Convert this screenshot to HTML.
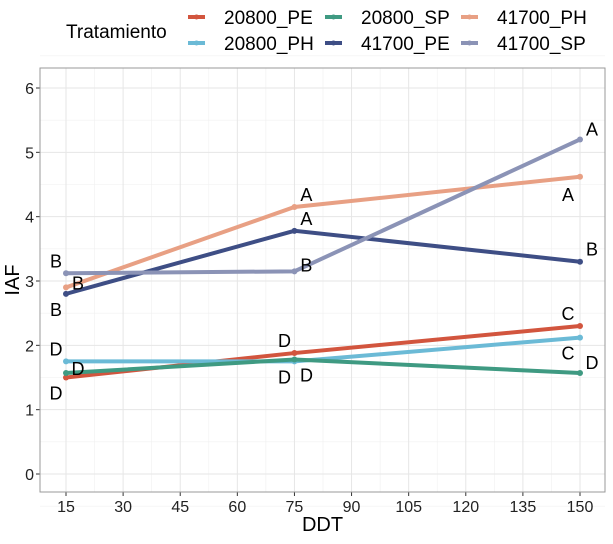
<!DOCTYPE html>
<html><head><meta charset="utf-8"><style>
body{margin:0;background:#fff;}
text{font-family:"Liberation Sans",sans-serif;}
</style></head><body>
<svg id="c" width="613" height="539" xmlns="http://www.w3.org/2000/svg"></svg>
<script>
const categories=[15,75,150];
const seriesNames=["20800_PE","20800_PH","20800_SP","41700_PE","41700_PH","41700_SP"];
const v20800PE=[1.5,1.88,2.3];
const v20800PH=[1.75,1.75,2.12];
const v20800SP=[1.57,1.78,1.57];
const v41700PE=[2.8,3.78,3.3];
const v41700PH=[2.9,4.15,4.62];
const v41700SP=[3.12,3.15,5.2];
const lettersPE20=["D","D","C"],lettersPH20=["D","D","C"],lettersSP20=["D","D","D"];
const lettersPE41=["B","A","B"],lettersPH41=["B","A","A"],lettersSP41=["B","B","A"];
const xTicks=[15,30,45,60,75,90,105,120,135,150];
const yTicks=[0,1,2,3,4,5,6];
const colors=["#d2553e","#6bbad6","#3f9a82","#3e4e85","#e8a084","#8b93b6"];
const S=document.getElementById('c');const NS="http://www.w3.org/2000/svg";
function X(v){return 66+(v-15)*(580-66)/135;}
function Y(v){return 474-v*(474-88)/6;}
function el(t,a,p){const e=document.createElementNS(NS,t);for(const k in a)e.setAttribute(k,a[k]);(p||S).appendChild(e);return e;}
const L=40,R=605,T=68,B=492;
for(let i=0;i<xTicks.length-1;i++){el('line',{x1:X(xTicks[i]+7.5),x2:X(xTicks[i]+7.5),y1:T,y2:B,stroke:'#f0f0f0','stroke-width':0.6});}
for(let i=-1;i<yTicks.length;i++){el('line',{x1:L,x2:R,y1:Y(i+0.5),y2:Y(i+0.5),stroke:'#f0f0f0','stroke-width':0.6});}
xTicks.forEach(t=>{const g=el('line',{x1:X(t),x2:X(t),y1:T,y2:B,stroke:'#e6e6e6','stroke-width':1});

el('line',{x1:X(t),x2:X(t),y1:B,y2:B+4,stroke:'#333'});
const tx=el('text',{x:X(t),y:B+20,'text-anchor':'middle','font-size':16,fill:'#222'});tx.textContent=t;
});
yTicks.forEach(t=>{const g=el('line',{x1:L,x2:R,y1:Y(t),y2:Y(t),stroke:'#e6e6e6','stroke-width':1});

el('line',{x1:L-4,x2:L,y1:Y(t),y2:Y(t),stroke:'#333'});
const tx=el('text',{x:L-6,y:Y(t)+6,'text-anchor':'end','font-size':16,fill:'#222'});tx.textContent=t;
});
const fr=el('rect',{x:L,y:T,width:R-L,height:B-T,fill:'none',stroke:'#999','stroke-width':1});

const all=[v20800PE,v20800PH,v20800SP,v41700PE,v41700PH,v41700SP];
all.forEach((vals,si)=>{const d=vals.map((v,i)=>(i?'L':'M')+X(categories[i])+','+Y(v)).join(' ');
const p=el('path',{d:d,fill:'none',stroke:colors[si],'stroke-width':4});

vals.forEach((v,i)=>{const c=el('circle',{cx:X(categories[i]),cy:Y(v),r:3,fill:colors[si]});
});});
const letters=[lettersPE20,lettersPH20,lettersSP20,lettersPE41,lettersPH41,lettersSP41];
const offs=[[[-10,22],[-10,-6],[-12,-6]],[[-10,-6],[-10,22],[-12,22]],[[12,2],[12,22],[12,-4]],[[-10,22],[12,-6],[12,-6]],[[12,2],[12,-6],[-12,24]],[[-10,-6],[12,0],[12,-4]]];
letters.forEach((ls,si)=>{ls.forEach((l,i)=>{const o=offs[si][i];
const t=el('text',{x:X(categories[i])+o[0],y:Y(all[si][i])+o[1],'text-anchor':'middle','font-size':18,fill:'#000'});t.textContent=l;
});});
let t=el('text',{x:(L+R)/2,y:531,'text-anchor':'middle','font-size':20,fill:'#000'});t.textContent='DDT';

t=el('text',{x:0,y:0,'text-anchor':'middle','font-size':20,fill:'#000',transform:'translate(19,'+(T+B)/2+') rotate(-90)'});t.textContent='IAF';

t=el('text',{x:66,y:38,'font-size':19,fill:'#000'});t.textContent='Tratamiento';

const lx=[188,325,461],ly=[17,43];
const order=[[0,2,4],[1,3,5]];
order.forEach((row,r)=>row.forEach((si,c)=>{const g=el('g',{});

el('line',{x1:lx[c],x2:lx[c]+17,y1:ly[r],y2:ly[r],stroke:colors[si],'stroke-width':4},g);
el('circle',{cx:lx[c]+8.5,cy:ly[r],r:2.5,fill:colors[si]},g);
const tt=el('text',{x:lx[c]+36,y:ly[r]+7,'font-size':19,fill:'#000'},g);tt.textContent=seriesNames[si];}));
</script>
</body></html>
